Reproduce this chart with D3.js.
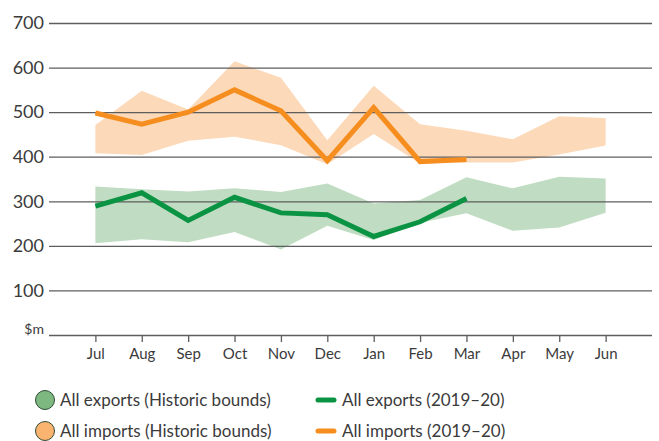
<!DOCTYPE html>
<html>
<head>
<meta charset="utf-8">
<script src="https://cdn.jsdelivr.net/npm/d3@7"></script>
<style>
  body { margin: 0; background: #fff; }
  text { font-family: Lato, "Open Sans", sans-serif; fill: #3b3b3b; }
</style>
</head>
<body>
<div id="chart"></div>
<script>
var months = ['Jul', 'Aug', 'Sep', 'Oct', 'Nov', 'Dec', 'Jan', 'Feb', 'Mar', 'Apr', 'May', 'Jun'];
var yTicks = [0, 100, 200, 300, 400, 500, 600, 700];

// historic bounds
var importsUpper = [471, 548, 506, 614, 577, 437, 559, 473, 458, 439, 491, 487];
var importsLower = [408, 404, 436, 445, 426, 383, 451, 385, 387, 387, 405, 425];
var exportsUpper = [333, 327, 322, 329, 321, 340, 295, 303, 354, 329, 355, 351];
var exportsLower = [206, 215, 208, 231, 192, 245, 213, 252, 273, 234, 241, 274];

// 2019-20 (Jul to Mar)
var imports2019 = [498, 473, 500, 550, 503, 391, 510, 389, 394];
var exports2019 = [289, 319, 257, 309, 274, 270, 221, 254, 306];

var w = 659, h = 441;
var plotLeft = 49, plotRight = 652, plotTop = 23, plotBottom = 335;

var svg = d3.select('#chart').append('svg')
  .attr('width', w)
  .attr('height', h);

var x = d3.scalePoint().domain(months).range([plotLeft, plotRight]).padding(1);
var y = d3.scaleLinear().domain([0, 700]).range([plotBottom, plotTop]);

var band = function(upper, lower) {
  return d3.area()
    .x(function(d, i) { return x(months[i]); })
    .y0(function(d, i) { return y(lower[i]); })
    .y1(function(d) { return y(d); })(upper);
};

svg.append('path').attr('d', band(importsUpper, importsLower)).attr('fill', '#fcd9b9');
svg.append('path').attr('d', band(exportsUpper, exportsLower)).attr('fill', '#c0dcc2');

// gridlines + y labels
var yaxis = d3.axisLeft(y).tickValues(yTicks).tickSize(-(plotRight - plotLeft)).tickPadding(5)
  .tickFormat(function(d) { return d === 0 ? '$m' : d; });
var gy = svg.append('g').attr('transform', 'translate(' + plotLeft + ',0)').call(yaxis);
gy.select('.domain').remove();
gy.selectAll('line').attr('stroke', '#5e5e5e').attr('stroke-width', 1.3);
gy.selectAll('text').attr('font-size', 18).attr('fill', '#3b3b3b')
  .filter(function(d) { return d === 0; }).attr('font-size', 14).attr('dy', '-0.1em');

// x axis ticks
var xaxis = d3.axisBottom(x).tickSize(7).tickPadding(6);
var gx = svg.append('g').attr('transform', 'translate(0,' + plotBottom + ')').call(xaxis);
gx.select('.domain').remove();
gx.selectAll('line').attr('stroke', '#5e5e5e').attr('stroke-width', 1.3);
gx.selectAll('text').attr('font-size', 15).attr('fill', '#3b3b3b');

var line = d3.line()
  .x(function(d, i) { return x(months[i]); })
  .y(function(d) { return y(d); });

svg.append('path').attr('d', line(exports2019)).attr('fill', 'none')
  .attr('stroke', '#0a9343').attr('stroke-width', 5);
svg.append('path').attr('d', line(imports2019)).attr('fill', 'none')
  .attr('stroke', '#f68e1f').attr('stroke-width', 5);

// legend
var legend = [
  {label: 'All exports (Historic bounds)', type: 'circle', color: '#7db880', cx: 45, cy: 400},
  {label: 'All imports (Historic bounds)', type: 'circle', color: '#fbb470', cx: 45, cy: 431},
  {label: 'All exports (2019\u201320)', type: 'line', color: '#0a9343', cx: 326, cy: 400},
  {label: 'All imports (2019\u201320)', type: 'line', color: '#f68e1f', cx: 326, cy: 431}
];
var lg = svg.append('g').selectAll('g').data(legend).enter().append('g');
lg.filter(function(d) { return d.type === 'circle'; }).append('circle')
  .attr('cx', function(d) { return d.cx; })
  .attr('cy', function(d) { return d.cy; })
  .attr('r', 9.5)
  .attr('fill', function(d) { return d.color; })
  .attr('stroke', '#2f4a33').attr('stroke-width', 1);
lg.filter(function(d) { return d.type === 'line'; }).append('line')
  .attr('x1', function(d) { return d.cx - 8; })
  .attr('x2', function(d) { return d.cx + 8; })
  .attr('y1', function(d) { return d.cy; })
  .attr('y2', function(d) { return d.cy; })
  .attr('stroke', function(d) { return d.color; })
  .attr('stroke-width', 5).attr('stroke-linecap', 'round');
lg.append('text')
  .attr('x', function(d) { return d.cx + (d.type === 'circle' ? 15 : 16); })
  .attr('y', function(d) { return d.cy; })
  .attr('dy', '0.35em')
  .attr('font-size', 17)
  .text(function(d) { return d.label; });
</script>
</body>
</html>
